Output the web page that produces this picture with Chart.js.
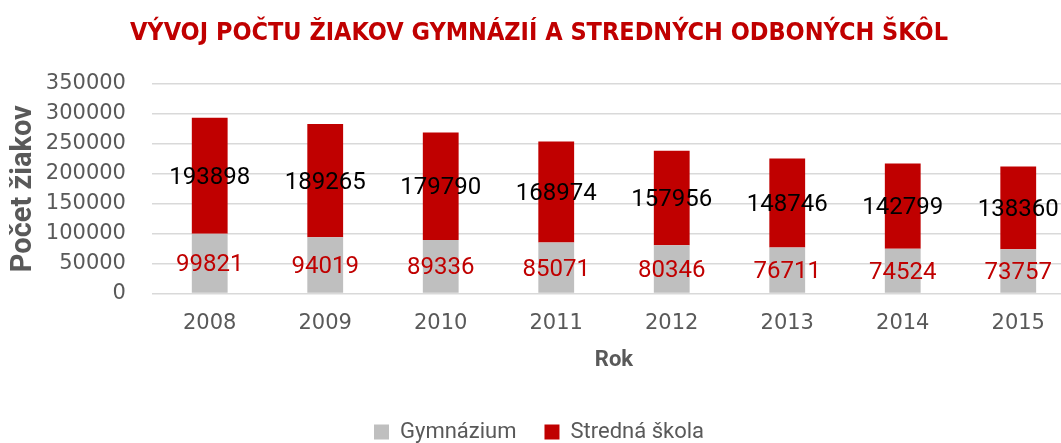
<!DOCTYPE html>
<html>
<head>
<meta charset="utf-8">
<script src="https://cdn.jsdelivr.net/npm/chart.js@4/dist/chart.umd.min.js"></script>
<style>
  html, body { margin: 0; padding: 0; background: #fff; overflow: hidden; }
  #wrap { width: 1078px; height: 443px; }
</style>
</head>
<body>
<div id="wrap"><canvas id="chart"></canvas></div>
<script>
// values
const years = ["2008", "2009", "2010", "2011", "2012", "2013", "2014", "2015"];
const gymnazium = [99821, 94019, 89336, 85071, 80346, 76711, 74524, 73757];
const strednaSkola = [193898, 189265, 179790, 168974, 157956, 148746, 142799, 138360];
const seriesNames = ["Gymnázium", "Stredná škola"];

const textGray = "#595959";
const red = "#c00000";

// labels in the middle of each bar segment
const segmentLabels = {
  id: "segmentLabels",
  afterDatasetsDraw(chart) {
    const ctx = chart.ctx;
    ctx.save();
    ctx.font = "24px Roboto";
    ctx.textAlign = "center";
    ctx.textBaseline = "middle";
    chart.data.datasets.forEach((ds, i) => {
      const meta = chart.getDatasetMeta(i);
      ctx.fillStyle = i === 0 ? red : "#000000";
      meta.data.forEach((bar, j) => {
        const { x, y, base } = bar.getProps(["x", "y", "base"], true);
        ctx.fillText(String(ds.data[j]), x, (y + base) / 2 + 2);
      });
    });
    ctx.restore();
  },
};

new Chart(document.getElementById("chart"), {
  type: "bar",
  data: {
    labels: years,
    datasets: [
      {
        label: seriesNames[0],
        data: gymnazium,
        backgroundColor: "#bfbfbf",
        barPercentage: 0.31,
        categoryPercentage: 1,
      },
      {
        label: seriesNames[1],
        data: strednaSkola,
        backgroundColor: red,
        barPercentage: 0.31,
        categoryPercentage: 1,
      },
    ],
  },
  options: {
    responsive: true,
    maintainAspectRatio: false,
    animation: false,
    layout: { padding: { top: 14, left: 2, right: 2, bottom: -10 } },
    plugins: {
      title: {
        display: true,
        text: "VÝVOJ POČTU ŽIAKOV GYMNÁZIÍ A STREDNÝCH ODBONÝCH ŠKÔL",
        color: red,
        font: { family: "DejaVu Sans Condensed", size: 25, weight: "bold" },
        padding: { top: 4, bottom: 36 },
      },
      legend: {
        position: "bottom",
        labels: {
          color: textGray,
          font: { family: "Roboto", size: 22 },
          boxWidth: 15,
          boxHeight: 15,
          padding: 28,
        },
      },
      tooltip: { enabled: false },
    },
    scales: {
      x: {
        stacked: true,
        grid: { display: false },
        border: { display: false },
        ticks: {
          color: textGray,
          font: { family: "DejaVu Sans", size: 21 },
          padding: 10,
          autoSkip: false,
          maxRotation: 0,
        },
        title: {
          display: true,
          text: "Rok",
          color: textGray,
          font: { family: "Roboto", size: 22, weight: "bold" },
          padding: { top: 1, bottom: 19 },
        },
      },
      y: {
        stacked: true,
        min: 0,
        max: 350000,
        border: { display: false },
        grid: { color: "#d9d9d9", lineWidth: 1.5, drawTicks: false },
        ticks: {
          stepSize: 50000,
          color: textGray,
          font: { family: "DejaVu Sans", size: 21 },
          padding: 26,
          autoSkip: false,
          callback: (v) => String(v),
        },
        title: {
          display: true,
          text: "Počet žiakov",
          color: textGray,
          font: { family: "Roboto", size: 29, weight: "bold" },
          padding: { top: 4, bottom: -21 },
        },
      },
    },
  },
  plugins: [segmentLabels],
});
</script>
</body>
</html>
